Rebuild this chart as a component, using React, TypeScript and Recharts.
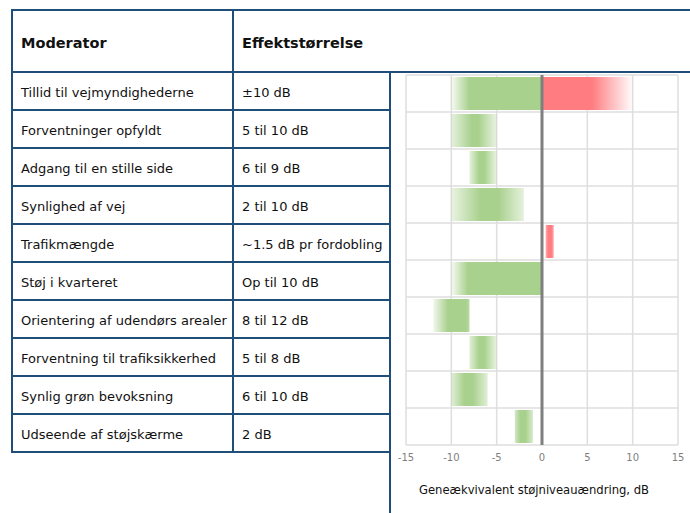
import React from 'react';
import {
  BarChart,
  Bar,
  XAxis,
  YAxis,
  CartesianGrid,
  ReferenceLine,
} from 'recharts';

const MODERATORS = [
  'Tillid til vejmyndighederne',
  'Forventninger opfyldt',
  'Adgang til en stille side',
  'Synlighed af vej',
  'Trafikmængde',
  'Støj i kvarteret',
  'Orientering af udendørs arealer',
  'Forventning til trafiksikkerhed',
  'Synlig grøn bevoksning',
  'Udseende af støjskærme',
];

const EFFECT_SIZES = [
  '±10 dB',
  '5 til 10 dB',
  '6 til 9 dB',
  '2 til 10 dB',
  '~1.5 dB pr fordobling',
  'Op til 10 dB',
  '8 til 12 dB',
  '5 til 8 dB',
  '6 til 10 dB',
  '2 dB',
];

// reduction (green) ranges, dB
const REDUCTION_LOW = [-10, -10, -8, -10, null, -10, -12, -8, -10, -3];
const REDUCTION_HIGH = [0, -5, -5, -2, null, 0, -8, -5, -6, -1];

// increase (red) ranges, dB
const INCREASE_LOW = [0, null, null, null, 0.4, null, null, null, null, null];
const INCREASE_HIGH = [10, null, null, null, 1.3, null, null, null, null, null];

const X_TICKS = [-15, -10, -5, 0, 5, 10, 15];

// gradient: [left edge opacity, solid from, solid to, right edge opacity]
const GREEN_FADE = [
  [0.1, 0.2, 1, 1],
  [0.3, 0.45, 0.6, 0.25],
  [0.3, 0.35, 0.55, 0.25],
  [0.25, 0.4, 0.65, 0.3],
  [1, 0, 1, 1],
  [0.1, 0.18, 1, 1],
  [0.15, 0.4, 0.9, 0.8],
  [0.35, 0.35, 0.55, 0.25],
  [0.35, 0.35, 0.6, 0.35],
  [0.5, 0.3, 0.6, 0.45],
];
const RED_FADE = [
  [1, 0, 0.55, 0.02],
  [1, 0, 1, 1],
  [1, 0, 1, 1],
  [1, 0, 1, 1],
  [0.6, 0.3, 0.7, 0.6],
  [1, 0, 1, 1],
  [1, 0, 1, 1],
  [1, 0, 1, 1],
  [1, 0, 1, 1],
  [1, 0, 1, 1],
];

const GREEN = '#a9d18e';
const RED = '#ff7c80';
const LINE = '#1f4e79';
const FONT = '"DejaVu Sans", Verdana, sans-serif';

const data = MODERATORS.map((name, i) => ({
  name,
  idx: i,
  green: REDUCTION_LOW[i] != null ? [REDUCTION_LOW[i], REDUCTION_HIGH[i]] : null,
  red: INCREASE_LOW[i] != null ? [INCREASE_LOW[i], INCREASE_HIGH[i]] : null,
}));

function makeShape(kind: 'green' | 'red') {
  return (props: any) => {
    const { x, y, width, height, payload } = props;
    if (!payload || !payload[kind] || !(width > 0)) return <g />;
    return (
      <rect
        x={x}
        y={y}
        width={width}
        height={height}
        fill={`url(#${kind}-${payload.idx})`}
      />
    );
  };
}

function gradient(id: string, color: string, fade: number[]) {
  const [a, s, e, b] = fade;
  return (
    <linearGradient key={id} id={id} x1="0" y1="0" x2="1" y2="0">
      <stop offset="0" stopColor={color} stopOpacity={a} />
      <stop offset={s} stopColor={color} stopOpacity={1} />
      <stop offset={e} stopColor={color} stopOpacity={1} />
      <stop offset="1" stopColor={color} stopOpacity={b} />
    </linearGradient>
  );
}

const hLine = (left: number, top: number, width: number) => (
  <div
    key={`h${left}-${top}`}
    style={{ position: 'absolute', left, top: top - 1, width, height: 2, background: LINE }}
  />
);
const vLine = (left: number, top: number, height: number) => (
  <div
    key={`v${left}-${top}`}
    style={{ position: 'absolute', left: left - 1, top, width: 2, height, background: LINE }}
  />
);

const ROW_H = 38;
const BODY_TOP = 72;

export default function App() {
  const cell = (left: number, top: number, text: string, bold = false) => (
    <div
      key={`${left}-${top}`}
      style={{
        position: 'absolute',
        left,
        top: top + 1,
        height: bold ? 64 : ROW_H,
        display: 'flex',
        alignItems: 'center',
        fontFamily: FONT,
        fontSize: bold ? 14.5 : 13,
        fontWeight: bold ? 'bold' : 'normal',
        color: '#111',
        whiteSpace: 'nowrap',
      }}
    >
      {text}
    </div>
  );

  return (
    <div
      style={{
        position: 'absolute',
        left: 0,
        top: 0,
        width: 690,
        height: 513,
        background: '#fff',
        overflow: 'hidden',
      }}
    >
      {cell(21, 10, 'Moderator', true)}
      {cell(242, 10, 'Effektstørrelse', true)}
      {MODERATORS.map((m, i) => cell(21, BODY_TOP + i * ROW_H, m))}
      {EFFECT_SIZES.map((e, i) => cell(242, BODY_TOP + i * ROW_H, e))}

      {hLine(12, 10, 678)}
      {hLine(12, BODY_TOP, 678)}
      {MODERATORS.map((_, i) => hLine(12, BODY_TOP + (i + 1) * ROW_H, 378))}
      {vLine(12, 9, BODY_TOP + 10 * ROW_H - 8)}
      {vLine(233, 9, BODY_TOP + 10 * ROW_H - 8)}
      {vLine(390, BODY_TOP, 513 - BODY_TOP)}

      <div style={{ position: 'absolute', left: 391, top: 73 }}>
        <BarChart
          width={299}
          height={440}
          data={data}
          layout="vertical"
          margin={{ top: 2, right: 12, bottom: 18, left: 15 }}
        >
          <defs>
            {GREEN_FADE.map((f, i) => gradient(`green-${i}`, GREEN, f))}
            {RED_FADE.map((f, i) => gradient(`red-${i}`, RED, f))}
          </defs>
          <CartesianGrid
            stroke="#dedede"
            strokeWidth={1.5}
            horizontalCoordinatesGenerator={({ offset }: any) =>
              Array.from({ length: MODERATORS.length + 1 }, (_, k) =>
                offset.top + (k * offset.height) / MODERATORS.length
              )
            }
          />
          <XAxis
            type="number"
            domain={[-15, 15]}
            ticks={X_TICKS}
            axisLine={false}
            tickLine={false}
            tickSize={0}
            tickMargin={9}
            height={50}
            tick={{ fontSize: 10, fill: '#7f7f7f', fontFamily: FONT }}
            label={{
              value: 'Geneækvivalent støjniveauændring, dB',
              position: 'insideBottom',
              offset: 1,
              dx: -8,
              style: { fontSize: 11.6, fill: '#111', fontFamily: FONT },
            }}
          />
          <YAxis type="category" dataKey="name" hide />
          <YAxis yAxisId="red" type="category" dataKey="name" hide />
          <Bar
            dataKey="green"
            barSize={33}
            shape={makeShape('green')}
            isAnimationActive={false}
          />
          <Bar
            dataKey="red"
            yAxisId="red"
            barSize={33}
            shape={makeShape('red')}
            isAnimationActive={false}
          />
          <ReferenceLine x={0} stroke="#7f7f7f" strokeWidth={3} />
        </BarChart>
      </div>
    </div>
  );
}
